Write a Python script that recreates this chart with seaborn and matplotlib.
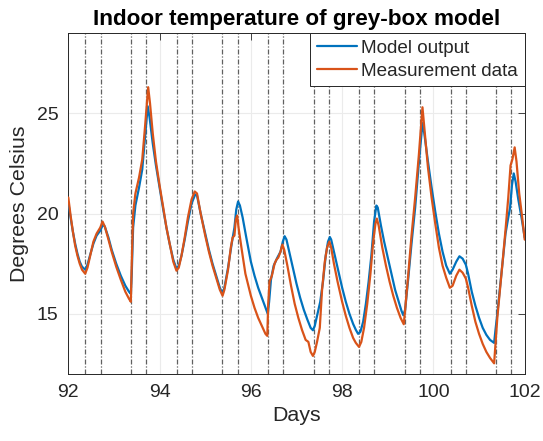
import matplotlib
matplotlib.use("Agg")
import matplotlib.pyplot as plt
import numpy as np
import pandas as pd
import seaborn as sns

# Simulated indoor temperature of the grey-box model (day, deg C)
model_days = [92.00, 92.05, 92.10, 92.15, 92.20, 92.25, 92.30, 92.37, 92.42, 92.48,
              92.55, 92.62, 92.70, 92.76, 92.80, 92.88, 92.95, 93.05, 93.15, 93.25,
              93.33, 93.37, 93.39, 93.42, 93.47, 93.55, 93.62, 93.68, 93.74, 93.78,
              93.85, 93.92, 94.00, 94.08, 94.15, 94.22, 94.30, 94.37, 94.42, 94.48,
              94.55, 94.62, 94.70, 94.78, 94.82, 94.90, 95.00, 95.08, 95.16, 95.24,
              95.32, 95.38, 95.42, 95.50, 95.58, 95.64, 95.68, 95.72, 95.76, 95.82,
              95.90, 96.00, 96.08, 96.16, 96.24, 96.32, 96.37, 96.40, 96.44, 96.50,
              96.58, 96.65, 96.70, 96.74, 96.78, 96.85, 96.93, 97.00, 97.08, 97.16,
              97.24, 97.31, 97.36, 97.40, 97.46, 97.52, 97.58, 97.64, 97.69, 97.73,
              97.76, 97.82, 97.90, 98.00, 98.08, 98.16, 98.24, 98.30, 98.35, 98.40,
              98.46, 98.52, 98.58, 98.64, 98.70, 98.75, 98.78, 98.85, 98.92, 99.00,
              99.08, 99.16, 99.24, 99.30, 99.34, 99.38, 99.45, 99.52, 99.60, 99.68,
              99.76, 99.80, 99.88, 99.96, 100.04, 100.12, 100.20, 100.28, 100.36, 100.42,
              100.50, 100.57, 100.64, 100.71, 100.76, 100.84, 100.92, 101.00, 101.08, 101.16,
              101.24, 101.33, 101.36, 101.40, 101.45, 101.52, 101.58, 101.64, 101.68, 101.72,
              101.76, 101.80, 101.86, 101.93, 102.00]
model_temp = [20.55, 19.8, 19.1, 18.5, 18.0, 17.6, 17.35, 17.2, 17.45, 17.95,
              18.5, 18.9, 19.15, 19.45, 19.35, 18.8, 18.2, 17.5, 16.9, 16.4,
              16.1, 16.0, 17.0, 19.3, 20.4, 21.3, 22.2, 23.8, 25.35, 24.8,
              23.5, 22.4, 21.3, 20.2, 19.3, 18.5, 17.7, 17.25, 17.4, 17.9,
              18.7, 19.6, 20.5, 20.95, 20.9, 20.0, 19.0, 18.2, 17.5, 16.9,
              16.3, 16.0, 16.3, 17.3, 18.5, 19.3, 20.2, 20.6, 20.4, 19.8,
              18.8, 17.6, 16.9, 16.3, 15.8, 15.3, 15.0, 15.6, 16.7, 17.4,
              17.8, 18.1, 18.6, 18.87, 18.7, 18.0, 17.2, 16.5, 15.8, 15.2,
              14.7, 14.3, 14.18, 14.4, 15.0, 15.6, 16.6, 17.9, 18.6, 18.83,
              18.7, 18.1, 17.3, 16.3, 15.6, 15.0, 14.5, 14.2, 14.0, 14.1,
              14.6, 15.5, 16.6, 17.9, 19.6, 20.4, 20.3, 19.4, 18.6, 17.8,
              17.0, 16.2, 15.6, 15.15, 14.93, 15.2, 16.8, 18.5, 20.3, 22.5,
              24.51, 24.0, 22.6, 21.3, 20.1, 19.0, 18.1, 17.4, 17.0, 17.2,
              17.6, 17.87, 17.75, 17.45, 17.0, 16.1, 15.4, 14.8, 14.3, 13.95,
              13.7, 13.55, 14.2, 15.0, 16.1, 17.6, 19.0, 19.8, 20.3, 21.4,
              22.0, 21.6, 20.7, 19.8, 18.8]

# Measured indoor temperature (day, deg C)
meas_days = [92.00, 92.05, 92.10, 92.15, 92.20, 92.25, 92.30, 92.37, 92.42, 92.48,
             92.55, 92.62, 92.70, 92.75, 92.80, 92.88, 92.95, 93.05, 93.15, 93.25,
             93.33, 93.37, 93.39, 93.42, 93.47, 93.55, 93.62, 93.68, 93.75, 93.79,
             93.85, 93.92, 94.00, 94.08, 94.15, 94.22, 94.30, 94.37, 94.42, 94.48,
             94.55, 94.62, 94.70, 94.77, 94.82, 94.90, 95.00, 95.08, 95.16, 95.24,
             95.32, 95.38, 95.42, 95.50, 95.56, 95.60, 95.64, 95.67, 95.70, 95.73,
             95.80, 95.88, 96.00, 96.08, 96.16, 96.24, 96.32, 96.36, 96.38, 96.41,
             96.46, 96.52, 96.56, 96.60, 96.65, 96.69, 96.73, 96.80, 96.88, 96.96,
             97.04, 97.12, 97.20, 97.26, 97.31, 97.36, 97.40, 97.45, 97.51, 97.56,
             97.62, 97.67, 97.72, 97.76, 97.82, 97.90, 98.00, 98.08, 98.16, 98.24,
             98.30, 98.37, 98.42, 98.48, 98.55, 98.62, 98.68, 98.73, 98.76, 98.80,
             98.88, 98.96, 99.04, 99.12, 99.20, 99.28, 99.35, 99.38, 99.45, 99.52,
             99.60, 99.68, 99.76, 99.80, 99.88, 99.96, 100.04, 100.12, 100.20, 100.28,
             100.36, 100.42, 100.50, 100.57, 100.64, 100.71, 100.76, 100.84, 100.92, 101.00,
             101.08, 101.16, 101.24, 101.33, 101.36, 101.40, 101.45, 101.52, 101.58, 101.64,
             101.69, 101.73, 101.78, 101.82, 101.88, 101.94, 102.00]
meas_temp = [20.8, 19.9, 19.1, 18.4, 17.9, 17.5, 17.2, 17.0, 17.3, 17.9,
             18.6, 19.0, 19.3, 19.6, 19.35, 18.7, 18.1, 17.35, 16.7, 16.1,
             15.75, 15.6, 17.5, 20.0, 21.0, 21.8, 22.7, 24.3, 26.3, 25.5,
             24.0, 22.6, 21.4, 20.3, 19.3, 18.5, 17.6, 17.15, 17.3, 17.9,
             18.8, 19.8, 20.7, 21.1, 21.0, 20.0, 18.9, 18.1, 17.4, 16.8,
             16.2, 15.9, 16.2, 17.2, 18.3, 18.8, 18.9, 19.7, 19.9, 19.3,
             18.2, 17.0, 15.9, 15.3, 14.8, 14.4, 14.0, 13.9, 15.5, 16.6,
             16.9, 17.5, 17.7, 17.8, 18.1, 18.45, 18.2, 17.4, 16.4, 15.5,
             14.8, 14.2, 13.7, 13.6, 13.1, 12.9, 13.1, 13.6, 14.3, 16.2,
             17.6, 18.3, 18.6, 18.3, 17.5, 16.6, 15.6, 14.9, 14.3, 13.8,
             13.55, 13.35, 13.6, 14.3, 15.5, 17.0, 18.6, 19.5, 19.75, 19.4,
             18.3, 17.4, 16.6, 15.9, 15.3, 14.8, 14.48, 15.2, 17.0, 18.9,
             20.8, 22.9, 25.3, 24.3, 22.3, 20.8, 19.5, 18.3, 17.4, 16.8,
             16.3, 16.4, 16.9, 17.2, 17.05, 16.76, 16.3, 15.4, 14.6, 14.0,
             13.5, 13.1, 12.8, 12.53, 13.5, 14.8, 16.0, 17.7, 19.2, 20.8,
             22.4, 22.7, 23.3, 22.6, 21.0, 19.9, 18.7]

# Occupancy schedule switch times (09:00 and 17:00 each day)
switch_times = [92.375, 92.708, 93.375, 93.708, 94.375, 94.708, 95.375, 95.708,
                96.375, 96.708, 97.375, 97.708, 98.375, 98.708, 99.375, 99.708,
                100.375, 100.708, 101.375, 101.708]

x_ticks = [92, 94, 96, 98, 100, 102]
y_ticks = [15, 20, 25]

sns.set_style("white")
plt.rcParams["font.family"] = ["Liberation Sans", "DejaVu Sans"]

df = pd.concat([
    pd.DataFrame({"Days": model_days, "Temp": model_temp, "Series": "Model output"}),
    pd.DataFrame({"Days": meas_days, "Temp": meas_temp, "Series": "Measurement data"}),
], ignore_index=True)

fig = plt.figure(figsize=(5.43, 4.41), dpi=100)
ax = fig.add_axes([0.1258, 0.152, 0.8405, 0.773])

ax.grid(True, color="#ebebeb", linewidth=0.8, zorder=0)
for t in switch_times:
    ax.axvline(t, color="#606060", linestyle=(0, (4, 1.5, 1, 1.5)), linewidth=0.9, zorder=1)

sns.lineplot(data=df, x="Days", y="Temp", hue="Series", sort=False,
             palette={"Model output": "#0072BD", "Measurement data": "#D95319"},
             linewidth=1.6, ax=ax, zorder=3, estimator=None)

ax.set_xlim(92, 102)
ax.set_ylim(12, 29)
ax.set_xticks(x_ticks)
ax.set_yticks(y_ticks)
ax.tick_params(direction="in", length=5, width=0.6, colors="#262626", labelsize=14,
               top=True, right=True, labeltop=False, labelright=False, pad=7)
for s in ax.spines.values():
    s.set_visible(True)
    s.set_color("#262626")
    s.set_linewidth(0.7)

ax.set_xlabel("Days", fontsize=15.4, color="#262626", labelpad=4)
ax.set_ylabel("Degrees Celsius", fontsize=15.4, color="#262626", labelpad=6)
ax.set_title("Indoor temperature of grey-box model", fontsize=16.2, fontweight="bold",
             color="black", pad=6)

leg = ax.legend(loc="upper right", borderaxespad=0, fontsize=13.6, frameon=True,
                fancybox=False, handlelength=2.1, handletextpad=0.25,
                borderpad=0.35, labelspacing=0.3)
leg.get_frame().set_edgecolor("#262626")
leg.get_frame().set_linewidth(0.7)
leg.get_frame().set_alpha(1.0)
for line in leg.get_lines():
    line.set_linewidth(1.6)

fig.savefig("out.png", dpi=100)
